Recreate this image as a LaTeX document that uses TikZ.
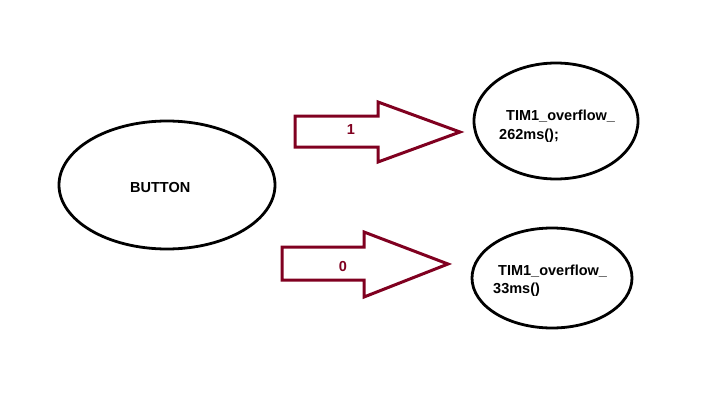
\documentclass[tikz,border=0pt]{standalone}
\usepackage{fontspec}
\setmainfont{Liberation Sans}
\definecolor{maroon}{HTML}{800020}
\begin{document}
\begin{tikzpicture}[x=1pt,y=-1pt,
  oval/.style={line width=2.8pt},
  bigarrow/.style={draw=maroon,line width=3pt,line join=miter},
  lbl/.style={font=\fontsize{14.5}{17}\selectfont\bfseries,inner sep=0pt},
  txt/.style={lbl,anchor=base west},
  albl/.style={lbl,text=maroon}]
\useasboundingbox[fill=white] (0,0) rectangle (725,420);
\draw[oval] (167,185) ellipse [x radius=108,y radius=64];
\draw[oval] (556,121) ellipse [x radius=82,y radius=58];
\draw[oval] (552,278) ellipse [x radius=80,y radius=50];
\node[txt] (button) at (130,192) {BUTTON};
\node[txt] (t1a) at (506,120) {TIM1\_overflow\_};
\node[txt] (t1b) at (499,139) {262ms();};
\node[txt] (t2a) at (498,275) {TIM1\_overflow\_};
\node[txt] (t2b) at (493,293) {33ms()};
\draw[bigarrow] (295,116) -- (378,116) -- (378,102) -- (460,132) -- (378,162) -- (378,147) -- (295,147) -- cycle;
\node[albl] (one) at (351,130) {1};
\draw[bigarrow] (282,247) -- (364,247) -- (364,232) -- (448,264) -- (364,297) -- (364,280) -- (282,280) -- cycle;
\node[albl] (zero) at (343,266.5) {0};
\end{tikzpicture}
\end{document}
